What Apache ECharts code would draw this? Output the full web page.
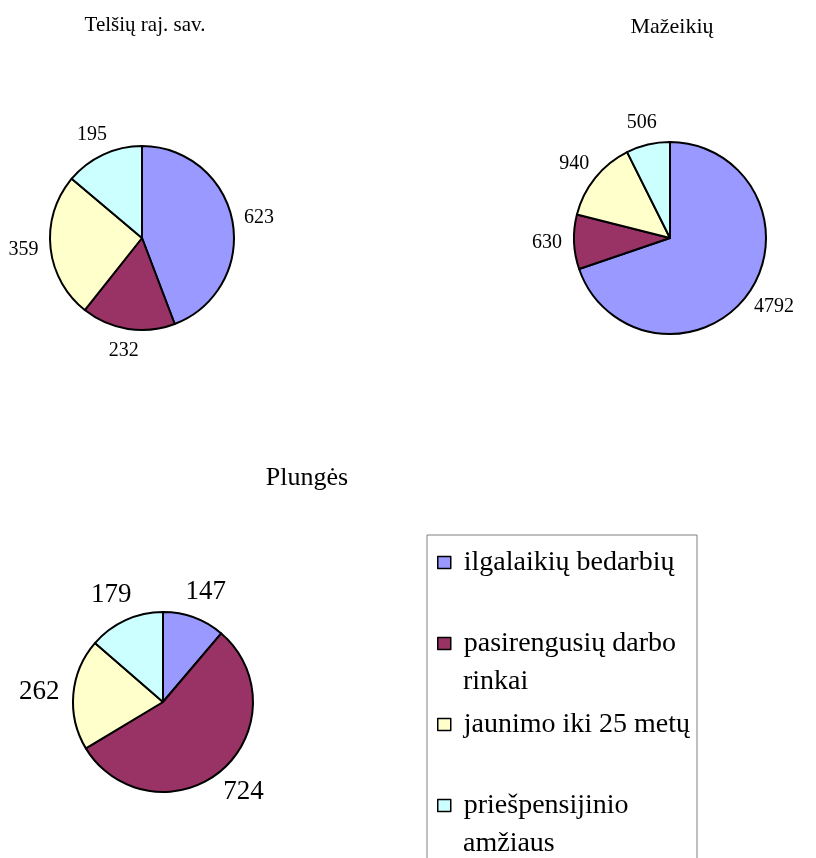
<!DOCTYPE html>
<html>
<head>
<meta charset="utf-8">
<script src="https://cdn.jsdelivr.net/npm/echarts@6/dist/echarts.min.js"></script>
<style>
  html, body { margin: 0; padding: 0; background: #fff; }
  #chart { width: 816px; height: 858px; }
</style>
</head>
<body>
<div id="chart"></div>
<script>
// kategorijos ir reikšmės
const categories = ['ilgalaikių bedarbių', 'pasirengusių darbo rinkai', 'jaunimo iki 25 metų', 'priešpensijinio amžiaus'];
const legendFirstLines = ['ilgalaikių bedarbių', 'pasirengusių darbo', 'jaunimo iki 25 metų', 'priešpensijinio'];
const legendSecondLines = ['', 'rinkai', '', 'amžiaus'];
const telsiaiValues = [623, 232, 359, 195];
const mazeikiaiValues = [4792, 630, 940, 506];
const plungeValues = [147, 724, 262, 179];
const colors = ['#9999FF', '#993366', '#FFFFCC', '#CCFFFF'];

const FONT = "'Liberation Serif', 'Times New Roman', serif";

function toData(values) {
  return values.map(function (v, i) {
    return { name: categories[i], value: v };
  });
}

// etiketė dedama už krašto, centras pagal kryptį (kaip Excel)
function outsideLabel(params) {
  const pts = params.labelLinePoints;
  if (!pts) return {};
  const dx = pts[1][0] - pts[0][0], dy = pts[1][1] - pts[0][1];
  const len = Math.sqrt(dx * dx + dy * dy) || 1;
  const ux = dx / len, uy = dy / len;
  const w = params.labelRect.width, h = params.labelRect.height;
  return {
    x: pts[1][0] + ux * w / 2,
    y: pts[1][1] + uy * h / 2,
    align: 'center',
    verticalAlign: 'middle'
  };
}

function pieSeries(name, values, center, radius, fontSize, gap) {
  return {
    name: name,
    type: 'pie',
    center: center,
    radius: radius,
    startAngle: 90,
    clockwise: true,
    avoidLabelOverlap: false,
    emphasis: { disabled: true },
    itemStyle: { borderColor: '#000', borderWidth: 2 },
    label: {
      show: true,
      position: 'outside',
      formatter: '{c}',
      color: '#000',
      fontFamily: FONT,
      fontSize: fontSize
    },
    labelLine: { show: true, length: gap, length2: 0, lineStyle: { opacity: 0, width: 0 } },
    labelLayout: outsideLabel,
    data: toData(values)
  };
}

// antros legendos eilutės
let legendExtra = [];
legendSecondLines.forEach(function (t, i) {
  if (!t) return;
  legendExtra.push({
    type: 'text',
    left: 463,
    top: 561 + i * 81 + 26,
    style: { text: t, font: "28px " + FONT, fill: '#000' }
  });
});

let myChart = echarts.init(document.getElementById('chart'));
myChart.setOption({
  animation: false,
  color: colors,
  title: [
    { text: 'Telšių raj. sav.', left: 145, top: 15, textAlign: 'center', padding: 0,
      textStyle: { fontFamily: FONT, fontWeight: 'normal', fontSize: 21, color: '#000' } },
    { text: 'Mažeikių', left: 672, top: 16, textAlign: 'center', padding: 0,
      textStyle: { fontFamily: FONT, fontWeight: 'normal', fontSize: 22, color: '#000' } },
    { text: 'Plungės', left: 307, top: 465, textAlign: 'center', padding: 0,
      textStyle: { fontFamily: FONT, fontWeight: 'normal', fontSize: 26, color: '#000' } }
  ],
  legend: {
    orient: 'vertical',
    left: 437,
    top: 544,
    height: 300,
    padding: 0,
    itemGap: 44,
    itemWidth: 13,
    itemHeight: 12,
    icon: 'rect',
    selectedMode: false,
    itemStyle: { borderColor: '#000', borderWidth: 1.5 },
    textStyle: { fontFamily: FONT, fontSize: 28, color: '#000', lineHeight: 37, padding: [0, 0, 0, 8] },
    formatter: function (name) {
      return legendFirstLines[categories.indexOf(name)];
    },
    data: categories
  },
  graphic: [
    {
      type: 'rect',
      shape: { x: 427, y: 535, width: 270, height: 340 },
      style: { fill: null, stroke: '#808080', lineWidth: 1 },
      z: -1
    }
  ].concat(legendExtra),
  series: [
    pieSeries('Telšių raj. sav.', telsiaiValues, [142, 238], 92, 20, 12),
    pieSeries('Mažeikių', mazeikiaiValues, [670, 238], 96, 20, 12),
    pieSeries('Plungės', plungeValues, [163, 702], 90, 27, 14)
  ]
});
</script>
</body>
</html>
